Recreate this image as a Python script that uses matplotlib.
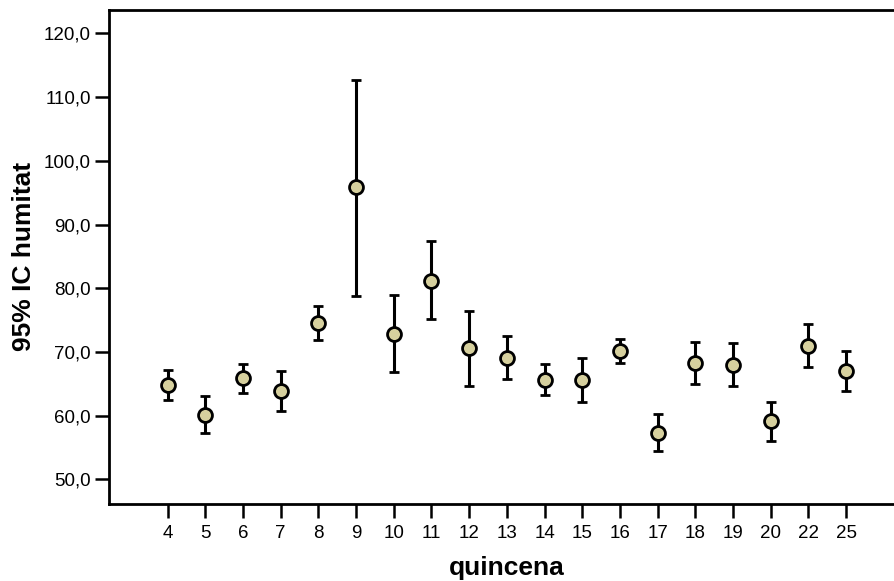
import matplotlib
matplotlib.use("Agg")
import matplotlib.pyplot as plt
from matplotlib.ticker import FuncFormatter

plt.rcParams['font.family'] = ['Liberation Sans', 'DejaVu Sans']

quincena = ['4', '5', '6', '7', '8', '9', '10', '11', '12', '13',
            '14', '15', '16', '17', '18', '19', '20', '22', '25']
mean = [64.8, 60.1, 65.9, 63.9, 74.5, 95.9, 72.8, 81.2, 70.6, 69.1,
        65.6, 65.6, 70.2, 57.3, 68.3, 67.9, 59.1, 70.9, 67.0]
upper = [67.1, 63.1, 68.1, 67.0, 77.2, 112.7, 78.9, 87.4, 76.4, 72.5,
         68.1, 69.1, 72.1, 60.3, 71.5, 71.4, 62.2, 74.4, 70.1]
lower = [62.4, 57.2, 63.6, 60.8, 71.9, 78.8, 66.8, 75.1, 64.7, 65.8,
         63.2, 62.2, 68.2, 54.4, 65.0, 64.6, 56.0, 67.6, 63.8]

x = list(range(len(quincena)))
err_lo = [m - l for m, l in zip(mean, lower)]
err_hi = [u - m for m, u in zip(mean, upper)]

fig = plt.figure(figsize=(8.94, 5.81), dpi=100)
ax = fig.add_axes([0.1219, 0.1325, 0.8781, 0.8511])

ax.errorbar(x, mean, yerr=[err_lo, err_hi], fmt='o', color='black',
            ecolor='black', elinewidth=2.2, capsize=3.8, capthick=2.2,
            markersize=10, markerfacecolor='#d6d09e',
            markeredgecolor='black', markeredgewidth=2, zorder=3)

ax.set_xlim(-1.556, 19.27)
ax.set_ylim(46.13, 123.75)
ax.set_xticks(x)
ax.set_xticklabels(quincena)
ax.set_yticks([50, 60, 70, 80, 90, 100, 110, 120])
ax.yaxis.set_major_formatter(FuncFormatter(lambda v, p: f'{v:.1f}'.replace('.', ',')))

ax.spines['right'].set_visible(False)
for s in ['left', 'top', 'bottom']:
    ax.spines[s].set_linewidth(2)

ax.tick_params(axis='both', length=10, width=1.8, labelsize=13.5, direction='out')
ax.tick_params(axis='x', pad=5)
ax.tick_params(axis='y', pad=3)

ax.set_xlabel('quincena', fontsize=19, fontweight='bold', labelpad=4)
ax.xaxis.set_label_coords((9 + 1.556) / (19.27 + 1.556), -0.105)
ax.set_ylabel('95% IC humitat', fontsize=19, fontweight='bold', labelpad=6)

fig.savefig('out.png', dpi=100)
